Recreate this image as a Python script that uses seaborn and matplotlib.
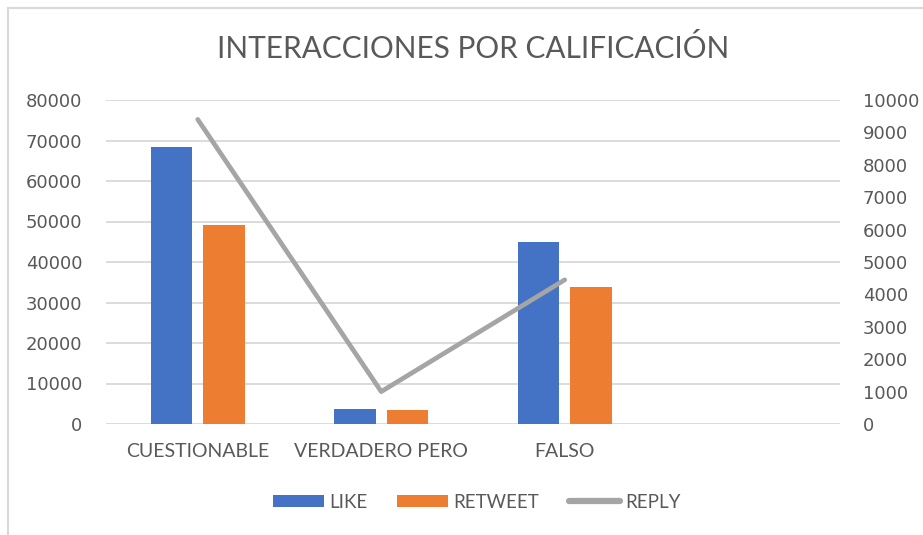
import matplotlib
matplotlib.use("Agg")
import matplotlib.pyplot as plt
import seaborn as sns
import pandas as pd
import numpy as np
from matplotlib.patches import Rectangle
from matplotlib.lines import Line2D
from matplotlib.patches import Patch

categories = ["CUESTIONABLE", "VERDADERO PERO", "FALSO"]
like = [68500, 3800, 45000]
retweet = [49200, 3400, 33800]
reply = [9400, 1000, 4450]
order = categories + [" "]

sns.set_theme(style="white")
plt.rcParams['font.family'] = ['Lato', 'DejaVu Sans']

TXT = "#595959"
GRID = "#D9D9D9"
BLUE = "#4472C4"
ORANGE = "#ED7D31"
GRAY = "#A5A5A5"
NUMFONT = ['DejaVu Sans']

df = pd.DataFrame({
    "cat": categories * 2,
    "serie": ["LIKE"] * 3 + ["RETWEET"] * 3,
    "val": like + retweet,
})

W, H = 923, 535
fig = plt.figure(figsize=(W / 100, H / 100), dpi=100)
ax = fig.add_axes([106 / W, 1 - 424 / H, (840 - 106) / W, (424 - 100) / H])

sns.barplot(data=df, x="cat", y="val", hue="serie", order=order,
            hue_order=["LIKE", "RETWEET"], palette=[BLUE, ORANGE], saturation=1,
            width=0.574, gap=0.21, linewidth=0, ax=ax, legend=False, zorder=3)

ax.set_xlim(-0.5, 3.5)
ax.set_ylim(0, 80000)
ax.set_yticks(np.arange(0, 80001, 10000))
ax.set_yticklabels([str(v) for v in range(0, 80001, 10000)],
                   family=NUMFONT, fontsize=13, color=TXT)
ax.set_xticks(range(4))
ax.set_xticklabels(order, fontsize=14, color=TXT)
ax.tick_params(axis="y", length=0, pad=17)
ax.tick_params(axis="x", length=0, pad=14)
ax.set_xlabel("")
ax.set_ylabel("")
for s in ax.spines.values():
    s.set_visible(False)
ax.grid(axis="y", color=GRID, linewidth=1.3, zorder=0)
ax.set_axisbelow(True)

ax2 = ax.twinx()
sns.lineplot(x=np.arange(len(categories)), y=reply, color=GRAY, linewidth=3.4,
             ax=ax2, zorder=4, solid_capstyle="round")
ax2.set_ylim(0, 10000)
ax2.set_yticks(np.arange(0, 10001, 1000))
ax2.set_yticklabels([str(v) for v in range(0, 10001, 1000)],
                    family=NUMFONT, fontsize=13, color=TXT)
ax2.tick_params(axis="y", length=0, pad=16.5)
ax2.set_xlim(-0.5, 3.5)
ax2.set_ylabel("")
for s in ax2.spines.values():
    s.set_visible(False)

fig.text(473 / W, 1 - 48 / H, "INTERACCIONES POR CALIFICACIÓN", ha="center",
         va="center", fontsize=21.4, color=TXT)

handles = [Patch(facecolor=BLUE, edgecolor="none"),
           Patch(facecolor=ORANGE, edgecolor="none"),
           Line2D([0], [0], color=GRAY, linewidth=4.5, solid_capstyle="round")]
fig.legend(handles, ["LIKE", "RETWEET", "REPLY"], loc="center",
           bbox_to_anchor=(477 / W, 1 - 502 / H), ncol=3, frameon=False,
           fontsize=13.5, labelcolor=TXT, handlelength=2.7, handleheight=0.55,
           handletextpad=0.3, columnspacing=1.6)

top = 1 - 8 / H
fig.patches.append(Rectangle((8 / W, -0.2), 1.2, top + 0.2,
                             transform=fig.transFigure, fill=False,
                             edgecolor=GRID, linewidth=1.5, figure=fig))

fig.savefig("out.png", dpi=100)
